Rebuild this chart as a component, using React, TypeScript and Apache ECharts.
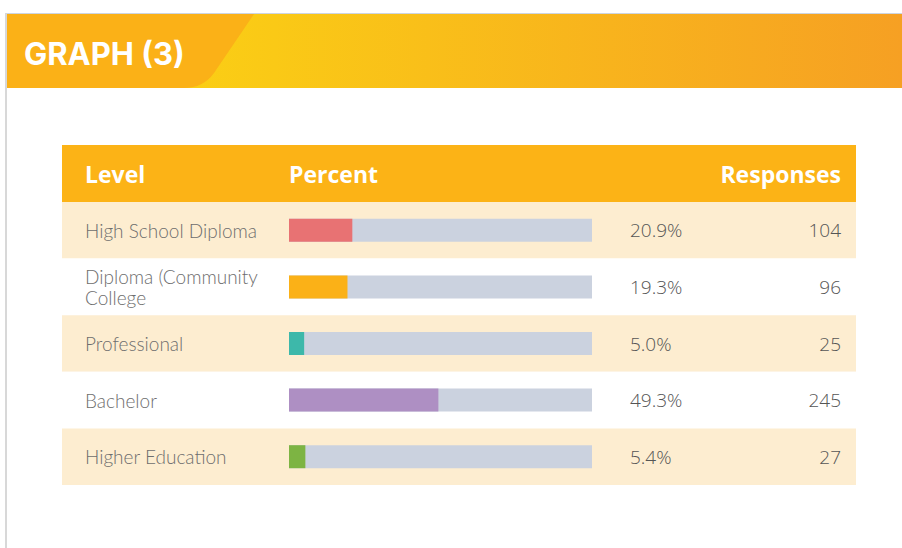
import React, { useEffect, useRef } from "react";
import * as echarts from "echarts";

const title = "GRAPH (3)";
const headers = ["Level", "Percent", "Responses"];
const levels = [
  "High School Diploma",
  "Diploma (Community College",
  "Professional",
  "Bachelor",
  "Higher Education",
];
const percents = [20.9, 19.3, 5.0, 49.3, 5.4];
const responses = [104, 96, 25, 245, 27];
const barColors = ["#E87273", "#FBB117", "#3DB8AA", "#AE8FC3", "#7DB443"];

echarts.graphic.registerShape(
  "headerTab",
  echarts.graphic.extendPath("M6 14 L254 14 L214 73 Q203 88 184 88 L6 88 Z", {})
);

export default function App() {
  const ref = useRef<HTMLDivElement>(null);
  useEffect(() => {
    if (!ref.current) return;
    const chart = echarts.init(ref.current, null, { renderer: "svg" });
    const labelFont = "Lato, 'Open Sans', sans-serif";
    const numFont = "'Open Sans', sans-serif";
    chart.setOption({
      animation: false,
      backgroundColor: "#ffffff",
      grid: [
        { left: 289, right: 310, top: 202, height: 283 },
        { left: 62, right: 46, top: 202, height: 283 },
      ],
      xAxis: [
        { type: "value", gridIndex: 0, min: 0, max: 100, show: false },
        { type: "value", gridIndex: 1, min: 0, max: 1, show: false },
      ],
      yAxis: [
        {
          type: "category",
          gridIndex: 0,
          data: levels,
          inverse: true,
          axisLine: { show: false },
          axisTick: { show: false },
          splitLine: { show: false },
          axisLabel: {
            margin: 204,
            align: "left",
            width: 180,
            overflow: "break",
            fontFamily: labelFont,
            fontWeight: 300,
            fontSize: 19,
            lineHeight: 21,
            color: "#6e6e6e",
          },
        },
        {
          type: "category",
          gridIndex: 0,
          position: "right",
          data: levels,
          inverse: true,
          axisLine: { show: false },
          axisTick: { show: false },
          splitLine: { show: false },
          axisLabel: {
            margin: 38,
            align: "left",
            formatter: (_v: string, i: number) =>
              `{p|${percents[i].toFixed(1)}%}{r|${responses[i]}}`,
            rich: {
              p: {
                width: 150,
                align: "left",
                fontFamily: numFont,
                fontWeight: 300,
                fontSize: 19,
                color: "#555555",
              },
              r: {
                width: 61,
                align: "right",
                fontFamily: numFont,
                fontWeight: 300,
                fontSize: 19,
                color: "#555555",
              },
            },
          },
        },
        {
          type: "category",
          gridIndex: 1,
          data: levels,
          inverse: true,
          axisLine: { show: false },
          axisTick: { show: false },
          axisLabel: { show: false },
          splitLine: { show: false },
          splitArea: {
            show: true,
            areaStyle: { color: ["#FDEDD0", "#FFFFFF"] },
          },
        },
      ],
      series: [
        {
          type: "bar",
          xAxisIndex: 0,
          yAxisIndex: 0,
          barWidth: 23,
          showBackground: true,
          backgroundStyle: { color: "#CBD2DF" },
          data: percents.map((v, i) => ({
            value: v,
            itemStyle: { color: barColors[i] },
          })),
          z: 5,
        },
      ],
      graphic: [
        {
          type: "rect",
          shape: { x: 6, y: 14, width: 896, height: 74 },
          style: {
            fill: new echarts.graphic.LinearGradient(0, 0, 1, 0, [
              { offset: 0, color: "#FBD913" },
              { offset: 0.3, color: "#FAC916" },
              { offset: 1, color: "#F6A023" },
            ]),
          },
          z: 1,
        },
        {
          type: "headerTab",
          x: 0,
          y: 0,
          shape: {},
          style: { fill: "#FBB117" },
          z: 2,
        },
        {
          type: "line",
          shape: { x1: 6, y1: 13.5, x2: 902, y2: 13.5 },
          style: { stroke: "#CDD5E0", lineWidth: 1 },
          z: 3,
        },
        {
          type: "line",
          shape: { x1: 6, y1: 13, x2: 6, y2: 548 },
          style: { stroke: "#D8D8D8", lineWidth: 2 },
          z: 3,
        },
        {
          type: "text",
          x: 24,
          y: 53,
          style: {
            text: title,
            fill: "#ffffff",
            font: "bold 31px Inter, 'Open Sans', sans-serif",
            textVerticalAlign: "middle",
          },
          z: 4,
        },
        {
          type: "rect",
          shape: { x: 62, y: 145, width: 794, height: 57 },
          style: { fill: "#FCB316" },
          z: 1,
        },
        {
          type: "text",
          x: 85,
          y: 174,
          style: {
            text: headers[0],
            fill: "#ffffff",
            font: "bold 23px 'Open Sans', sans-serif",
            textVerticalAlign: "middle",
          },
          z: 4,
        },
        {
          type: "text",
          x: 289,
          y: 174,
          style: {
            text: headers[1],
            fill: "#ffffff",
            font: "bold 23px 'Open Sans', sans-serif",
            textVerticalAlign: "middle",
          },
          z: 4,
        },
        {
          type: "text",
          x: 841,
          y: 174,
          style: {
            text: headers[2],
            fill: "#ffffff",
            font: "bold 23px 'Open Sans', sans-serif",
            textAlign: "right",
            textVerticalAlign: "middle",
          },
          z: 4,
        },
      ],
    });
    return () => chart.dispose();
  }, []);
  return (
    <div
      ref={ref}
      style={{ position: "fixed", left: 0, top: 0, width: 902, height: 548 }}
    />
  );
}
